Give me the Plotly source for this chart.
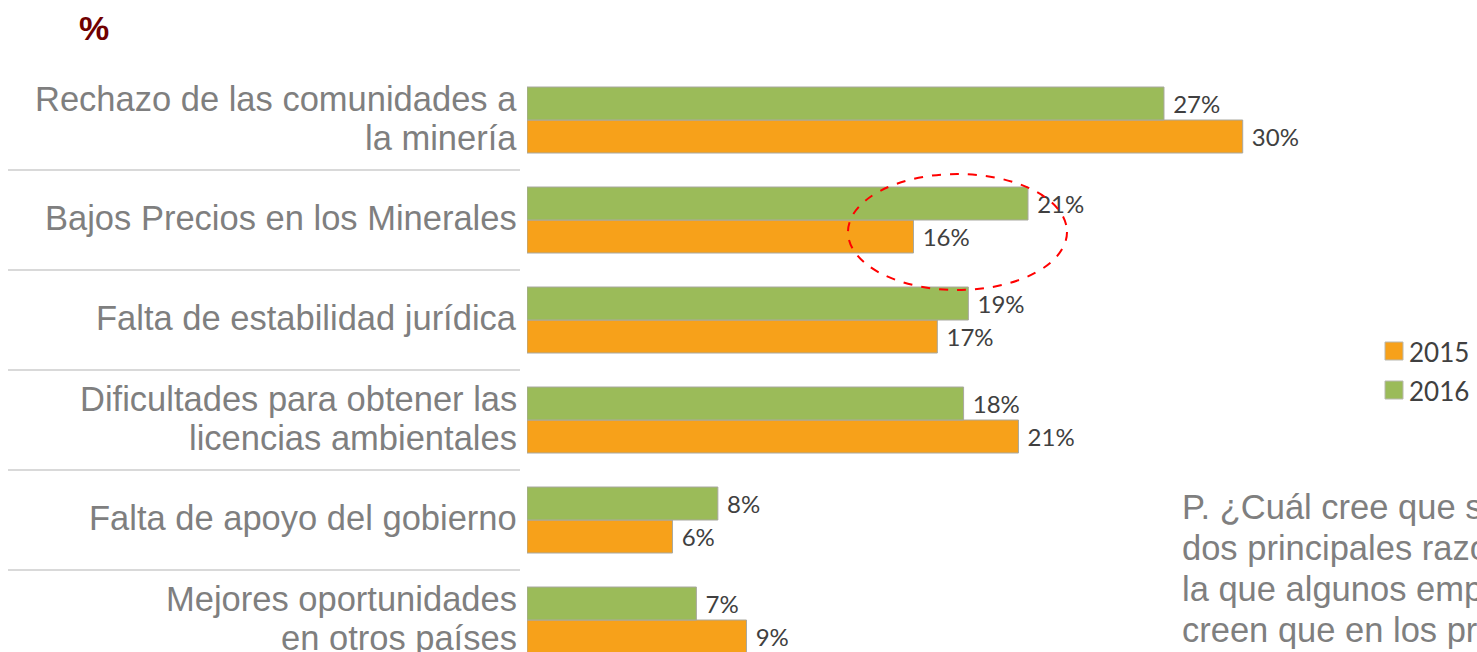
import plotly.graph_objects as go

# --- data ---
categories = [
    "Rechazo de las comunidades a<br>la minería",
    "Bajos Precios en los Minerales",
    "Falta de estabilidad jurídica",
    "Dificultades para obtener las<br>licencias ambientales",
    "Falta de apoyo del gobierno",
    "Mejores oportunidades<br>en otros países",
]
vals_2015 = [30.0, 16.2, 17.2, 20.6, 6.1, 9.2]
vals_2016 = [26.7, 21.0, 18.5, 18.3, 8.0, 7.1]
labels_2015 = ["30%", "16%", "17%", "21%", "6%", "9%"]
labels_2016 = ["27%", "21%", "19%", "18%", "8%", "7%"]

question = [
    "P. ¿Cuál cree que son las",
    "dos principales razones por",
    "la que algunos empresarios",
    "creen que en los próximos",
]

ORANGE = "#F7A11A"
GREEN = "#9BBB59"
GRAY_TXT = "#7f7f7f"
LBL_TXT = "#404040"

W, H = 1477, 652
L, R, T, B = 527, 115, 70, 0
PW = W - L - R
PH = H - T - B


def px_x(px):
    return (px - L) / PW


def px_y(py):
    return (H - B - py) / PH


fig = go.Figure()

series = [
    ("2015", vals_2015, labels_2015, ORANGE, 0.0),
    ("2016", vals_2016, labels_2016, GREEN, -0.33),
]
for name, vals, labels, color, off in series:
    fig.add_trace(go.Bar(
        name=name, y=list(range(len(categories))), x=vals, orientation="h",
        offset=off, width=0.33,
        marker=dict(color=color, line=dict(color="#a8a8a0", width=1)),
        text=["\u00a0" + t for t in labels], textposition="outside",
        textfont=dict(family="Lato", size=24, color=LBL_TXT),
        cliponaxis=False, constraintext="none",
        hovertemplate="%{x}<extra>" + name + "</extra>",
    ))

# category labels (right aligned, tight line spacing)
for i, cat in enumerate(categories):
    lines = cat.split("<br>")
    n = len(lines)
    for j, line in enumerate(lines):
        fig.add_annotation(xref="paper", yref="y", x=px_x(519),
                           y=i - 0.02 + (j - (n - 1) / 2) * 0.39,
                           xanchor="right", yanchor="middle",
                           text=line, showarrow=False,
                           font=dict(family="Liberation Sans", size=34.5,
                                     color=GRAY_TXT))

# separators between categories
for i in range(len(categories) - 1):
    fig.add_shape(type="line", xref="paper", yref="y",
                  x0=px_x(8), x1=px_x(520), y0=i + 0.5, y1=i + 0.5,
                  line=dict(color="#d9d9d9", width=2))

# red dashed ellipse around "Bajos Precios"
fig.add_shape(type="circle", xref="paper", yref="paper",
              x0=px_x(848), x1=px_x(1067), y0=px_y(290), y1=px_y(174),
              line=dict(color="#FF0000", width=2, dash="dash"))

# legend drawn by hand (Excel-style big squares)
legend_rows = [(351, series[0]), (390, series[1])]
for cy, (name, _, _, color, _) in legend_rows:
    fig.add_shape(type="rect", xref="paper", yref="paper",
                  x0=px_x(1385), x1=px_x(1403), y0=px_y(cy + 9), y1=px_y(cy - 9),
                  fillcolor=color, line=dict(color="#b8b8b0", width=1))
    fig.add_annotation(xref="paper", yref="paper", x=px_x(1407), y=px_y(cy + 1),
                       xanchor="left", yanchor="middle", text=name,
                       showarrow=False,
                       font=dict(family="Lato", size=26, color=LBL_TXT))

# "%" title
fig.add_annotation(xref="paper", yref="paper", x=px_x(94), y=px_y(28),
                   xanchor="center", yanchor="middle",
                   text="<b>%</b>", showarrow=False,
                   font=dict(family="Liberation Sans", size=34, color="#700000"))

# question text, one line per annotation (tighter spacing than <br>)
for k, line in enumerate(question):
    fig.add_annotation(xref="paper", yref="paper", x=px_x(1180),
                       y=px_y(507 + 41 * k),
                       xanchor="left", yanchor="middle", align="left",
                       text=line, showarrow=False,
                       font=dict(family="Liberation Sans", size=34.5,
                                 color=GRAY_TXT))

fig.update_layout(
    width=W, height=H,
    margin=dict(l=L, r=R, t=T, b=B, pad=0),
    paper_bgcolor="white", plot_bgcolor="white",
    barmode="overlay",
    showlegend=False,
    xaxis=dict(range=[0, 35], visible=False, showgrid=False, zeroline=False),
    yaxis=dict(range=[5.32, -0.5], visible=False, showgrid=False,
               zeroline=False),
)

fig.write_html("out.html", config={"displayModeBar": False},
               post_script="document.body.style.margin='0px';")
